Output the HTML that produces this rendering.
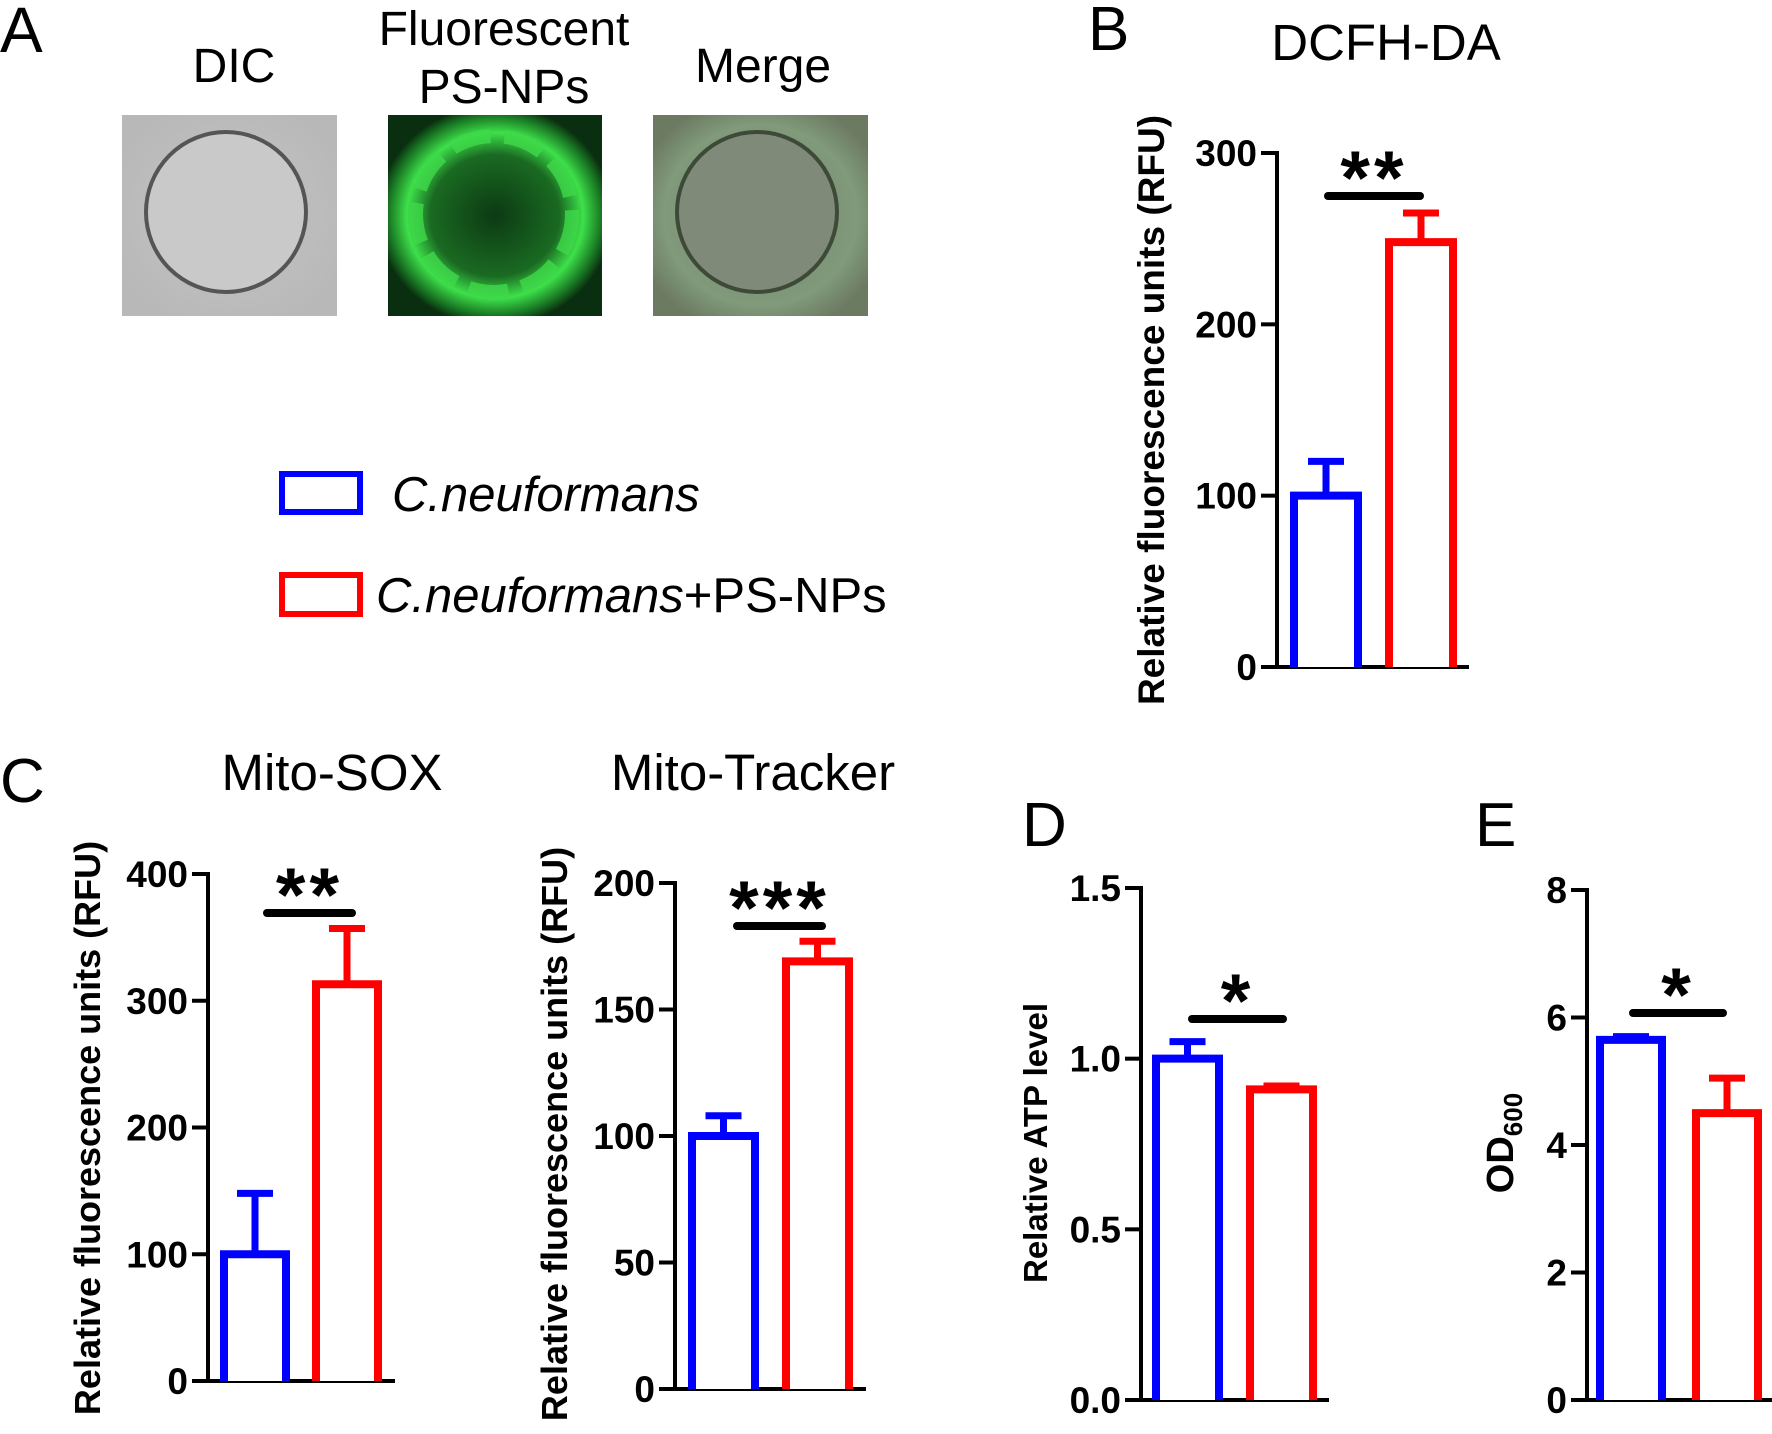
<!DOCTYPE html>
<html><head><meta charset="utf-8"><style>
html,body{margin:0;padding:0;background:#fff}
svg{display:block;font-family:"Liberation Sans",Arial,sans-serif}
</style></head><body>
<svg id="fig" width="1772" height="1434" viewBox="0 0 1772 1434" xmlns="http://www.w3.org/2000/svg">
<defs>
<radialGradient id="dicg" cx="50%" cy="50%" r="60%"><stop offset="0" stop-color="#c4c4c4"/><stop offset="1" stop-color="#b8b8b8"/></radialGradient>
<radialGradient id="flg" cx="50%" cy="50%" r="55%"><stop offset="0" stop-color="#0c3a14"/><stop offset="0.55" stop-color="#1a6a22"/><stop offset="0.75" stop-color="#3ee04a"/><stop offset="0.9" stop-color="#1a7a24"/><stop offset="1" stop-color="#0a2e10"/></radialGradient>
<radialGradient id="mgg" cx="50%" cy="50%" r="60%"><stop offset="0" stop-color="#7b8574"/><stop offset="0.75" stop-color="#809a7a"/><stop offset="1" stop-color="#6c7a62"/></radialGradient>
</defs>
<text x="0" y="52" font-size="64">A</text>
<text x="234" y="82" font-size="48" text-anchor="middle">DIC</text>
<text x="504" y="45" font-size="48" text-anchor="middle">Fluorescent</text>
<text x="504" y="103" font-size="48" text-anchor="middle">PS-NPs</text>
<text x="763" y="82" font-size="48" text-anchor="middle">Merge</text>
<g>
<rect x="122" y="115" width="215" height="201" fill="url(#dicg)"/>
<circle cx="226" cy="212" r="80" fill="#c9c9c9" stroke="#555" stroke-width="4"/>
</g>
<g>
<rect x="388" y="115" width="214" height="201" fill="url(#flg)"/>
<circle cx="494" cy="214" r="78" fill="none" stroke="#3fd84a" stroke-width="14" stroke-dasharray="40 14" opacity="0.8"/>
</g>
<g>
<rect x="653" y="115" width="215" height="201" fill="url(#mgg)"/>
<circle cx="757" cy="212" r="80" fill="#7f8a78" stroke="#3e4a38" stroke-width="4"/>
</g>
<g>
<rect x="282" y="474" width="78" height="38" fill="none" stroke="#0000ff" stroke-width="6"/>
<text x="392" y="511" font-size="49" font-style="italic">C.neuformans</text>
<rect x="282" y="575" width="78" height="39" fill="none" stroke="#ff0000" stroke-width="6"/>
<text x="376" y="612" font-size="49"><tspan font-style="italic">C.neuformans</tspan>+PS-NPs</text>
</g>
<text x="1088" y="50" font-size="62">B</text>
<text x="1386" y="60" font-size="51" text-anchor="middle">DCFH-DA</text>
<text x="0" y="802" font-size="62">C</text>
<text x="332" y="790" font-size="51" text-anchor="middle">Mito-SOX</text>
<text x="753" y="790" font-size="51" text-anchor="middle">Mito-Tracker</text>
<text x="1022" y="846" font-size="62">D</text>
<text x="1475" y="846" font-size="62">E</text>
<g id="charts"></g>
</svg>
<script>
// Chart data
const groups = ["C.neuformans", "C.neuformans+PS-NPs"];
const dcfhMeans = [100, 248];
const dcfhErr = [20, 17];
const dcfhTicks = ["0", "100", "200", "300"];
const soxMeans = [100, 313];
const soxErr = [48, 44];
const soxTicks = ["0", "100", "200", "300", "400"];
const trackerMeans = [100, 169];
const trackerErr = [8, 8];
const trackerTicks = ["0", "50", "100", "150", "200"];
const atpMeans = [1.0, 0.91];
const atpErr = [0.05, 0.01];
const atpTicks = ["0.0", "0.5", "1.0", "1.5"];
const odMeans = [5.65, 4.5];
const odErr = [0.05, 0.55];
const odTicks = ["0", "2", "4", "6", "8"];
const sigLabels = ["**", "**", "***", "*", "*"];

const NS = "http://www.w3.org/2000/svg";
const root = document.getElementById("charts");
function mk(tag, attrs, parent) {
  const e = document.createElementNS(NS, tag);
  for (const k in attrs) e.setAttribute(k, attrs[k]);
  (parent || root).appendChild(e);
  return e;
}
const colors = ["#0000ff", "#ff0000"];

function chart(name, cfg, means, errs, ticks, sig) {
  const g = mk("g", {});
  
  
  const tv = ticks.map(Number);
  const ymin = tv[0], ymax = tv[tv.length - 1];
  const y = v => cfg.y0 - (v - ymin) / (ymax - ymin) * (cfg.y0 - cfg.yTop);
  const ya = mk("line", {x1: cfg.ax, y1: y(ymax) - 2, x2: cfg.ax, y2: cfg.y0, stroke: "#000", "stroke-width": 4}, g);
  
  
  const xa = mk("line", {x1: cfg.ax - 16, y1: cfg.y0, x2: cfg.xEnd, y2: cfg.y0, stroke: "#000", "stroke-width": 4}, g);
  
  
  ticks.forEach((t, i) => {
    const yy = y(tv[i]);
    mk("line", {x1: cfg.ax - 16, y1: yy, x2: cfg.ax, y2: yy, stroke: "#000", "stroke-width": 4}, g);
    const tx = mk("text", {x: cfg.ax - 20, y: yy + 13, "font-size": 37, "font-weight": "bold", "text-anchor": "end"}, g);
    tx.textContent = t;
    
    
  });
  means.forEach((m, i) => {
    const x1 = cfg.bx[i], x2 = cfg.bx[i] + cfg.bw, top = y(m), cx = (x1 + x2) / 2;
    const et = y(m + errs[i]);
    const eb = mk("path", {d: `M${cx} ${top} V${et} M${cx - 18} ${et} H${cx + 18}`, stroke: colors[i], "stroke-width": 7, fill: "none"}, g);
    
    
    const b = mk("path", {d: `M${x1} ${cfg.y0} V${top} H${x2} V${cfg.y0}`, stroke: colors[i], "stroke-width": 8, fill: "#fff"}, g);
    
    
  });
  const sl = mk("line", {x1: cfg.sig[0], y1: cfg.sig[2], x2: cfg.sig[1], y2: cfg.sig[2], stroke: "#000", "stroke-width": 8, "stroke-linecap": "round"}, g);
  
  
  const st = mk("text", {x: (cfg.sig[0] + cfg.sig[1]) / 2, y: cfg.sig[2] + 8, "font-size": 76, "font-weight": "bold", "text-anchor": "middle", "letter-spacing": 4}, g);
  st.textContent = sig;
  
  
  const yl = mk("text", {transform: `translate(${cfg.lx},${cfg.ly}) rotate(-90)`, "font-size": cfg.lfs, "font-weight": "bold", "text-anchor": "middle"}, g);
  if (cfg.label === "OD") {
    const a = mk("tspan", {}, yl); a.textContent = "OD";
    const b = mk("tspan", {"font-size": 26, dy: 9}, yl); b.textContent = "600";
  } else yl.textContent = cfg.label;
  
  
}

chart("dcfh", {ax: 1277, y0: 667, yTop: 153, xEnd: 1469, bx: [1294, 1389], bw: 64, sig: [1328, 1420, 196], lx: 1164, ly: 410, lfs: 37, label: "Relative fluorescence units (RFU)"}, dcfhMeans, dcfhErr, dcfhTicks, sigLabels[0]);
chart("mitosox", {ax: 208, y0: 1381, yTop: 874, xEnd: 395, bx: [224, 316], bw: 62, sig: [267, 352, 913], lx: 100, ly: 1128, lfs: 36, label: "Relative fluorescence units (RFU)"}, soxMeans, soxErr, soxTicks, sigLabels[1]);
chart("mitotracker", {ax: 675, y0: 1389, yTop: 883, xEnd: 866, bx: [692, 786], bw: 63, sig: [737, 822, 926], lx: 567, ly: 1134, lfs: 36, label: "Relative fluorescence units (RFU)"}, trackerMeans, trackerErr, trackerTicks, sigLabels[2]);
chart("atp", {ax: 1141, y0: 1400, yTop: 888, xEnd: 1329, bx: [1156, 1250], bw: 63, sig: [1192, 1283, 1019], lx: 1047, ly: 1143, lfs: 33, label: "Relative ATP level"}, atpMeans, atpErr, atpTicks, sigLabels[3]);
chart("od600", {ax: 1587, y0: 1400, yTop: 890, xEnd: 1772, bx: [1600, 1696], bw: 62, sig: [1633, 1723, 1013], lx: 1513, ly: 1143, lfs: 38, label: "OD"}, odMeans, odErr, odTicks, sigLabels[4]);
</script>
</body></html>
